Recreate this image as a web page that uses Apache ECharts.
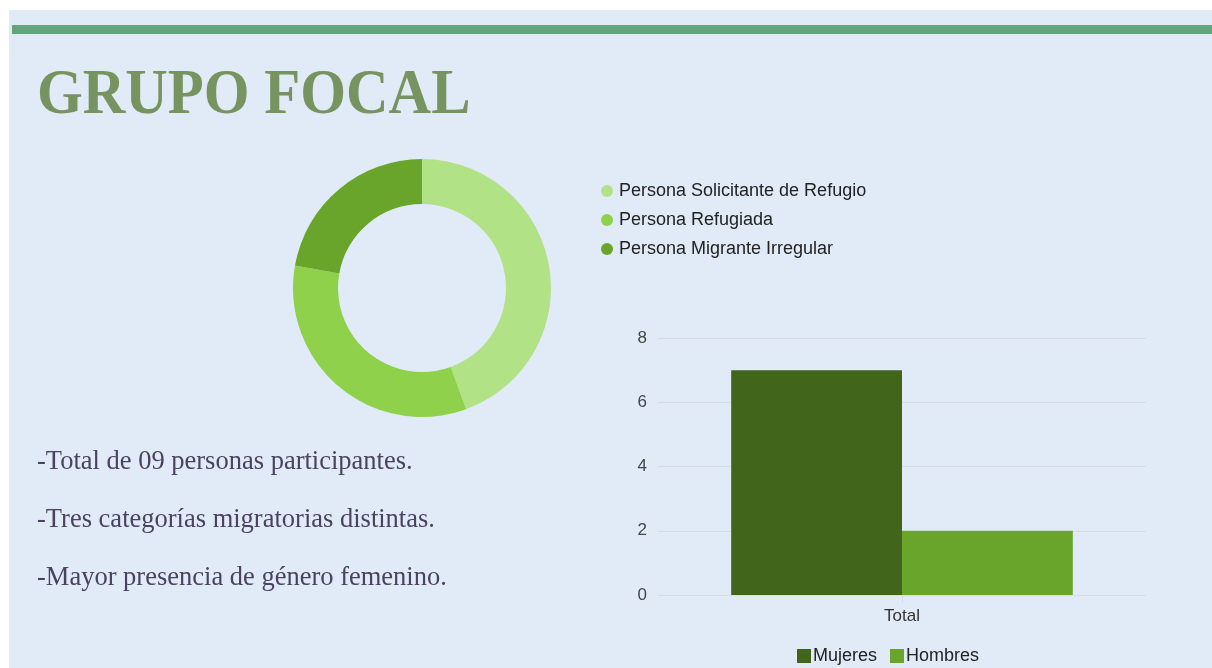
<!DOCTYPE html>
<html>
<head>
<meta charset="utf-8">
<script src="https://cdn.jsdelivr.net/npm/echarts@6/dist/echarts.min.js"></script>
<style>
  html, body { margin: 0; padding: 0; background: #ffffff; }
  #main { width: 1212px; height: 668px; }
</style>
</head>
<body>
<div id="main"></div>
<script>
// donut: migratory categories
var pieNames = ['Persona Solicitante de Refugio', 'Persona Refugiada', 'Persona Migrante Irregular'];
var pieValues = [4, 3, 2];
var pieColors = ['#b2e286', '#8fd14b', '#68a52a'];

// bars: gender
var barCategories = ['Total'];
var barSeriesNames = ['Mujeres', 'Hombres'];
var mujeres = [7];
var hombres = [2];
var barColors = ['#40651b', '#68a52a'];

var bullets = [
  '-Total de 09 personas participantes.',
  '-Tres categorías migratorias distintas.',
  '-Mayor presencia de género femenino.'
];

var sans = 'Arial, "Liberation Sans", sans-serif';

var myChart = echarts.init(document.getElementById('main'));

var textGraphics = bullets.map(function (t, i) {
  return {
    type: 'text',
    x: 37,
    y: 462 + i * 58,
    style: {
      text: t,
      font: '26.5px "Liberation Serif", serif',
      fill: '#4a4260',
      verticalAlign: 'middle'
    }
  };
});

var option = {
  backgroundColor: '#ffffff',
  animation: false,
  graphic: [
    { type: 'rect', shape: { x: 9, y: 10, width: 1203, height: 658 }, style: { fill: '#e1ebf7' }, z: -10 },
    { type: 'rect', shape: { x: 12, y: 25, width: 1200, height: 9 }, style: { fill: '#63a47c' } },
    {
      type: 'text',
      x: 37,
      y: 96,
      scaleX: 0.92,
      style: {
        text: 'GRUPO FOCAL',
        font: 'bold 64px "Liberation Serif", serif',
        fill: '#77935f',
        verticalAlign: 'middle'
      }
    }
  ].concat(textGraphics),
  legend: [{
    orient: 'vertical',
    left: 601,
    top: 182,
    padding: 0,
    icon: 'circle',
    itemWidth: 12,
    itemHeight: 12,
    itemGap: 11,
    data: pieNames,
    textStyle: { fontSize: 18, lineHeight: 18, color: '#222', fontFamily: sans, padding: [0, 0, 0, 1] }
  }, {
    left: 797,
    top: 647,
    padding: 0,
    icon: 'rect',
    itemWidth: 14,
    itemHeight: 14,
    itemGap: 13,
    data: barSeriesNames,
    textStyle: { fontSize: 18, lineHeight: 18, color: '#222', fontFamily: sans, padding: [0, 0, 0, -3] }
  }],
  grid: { left: 658, top: 338, width: 488, height: 257 },
  xAxis: {
    type: 'category',
    data: barCategories,
    axisLine: { show: false },
    axisTick: { show: true, alignWithLabel: true, length: 8, lineStyle: { color: '#d9dde2' } },
    axisLabel: { color: '#333', fontSize: 17, margin: 13, fontFamily: sans }
  },
  yAxis: {
    type: 'value',
    min: 0,
    max: 8,
    interval: 2,
    axisLine: { show: false },
    axisTick: { show: false },
    axisLabel: { color: '#444', fontSize: 17, margin: 11, padding: [0, 0, 10, 0], fontFamily: sans },
    splitLine: { lineStyle: { color: '#d9dde2' } }
  },
  series: [{
    type: 'pie',
    center: [422, 288],
    radius: [84, 129],
    startAngle: 90,
    clockwise: true,
    label: { show: false },
    labelLine: { show: false },
    data: pieNames.map(function (n, i) {
      return { name: n, value: pieValues[i], itemStyle: { color: pieColors[i] } };
    })
  }, {
    name: barSeriesNames[0],
    type: 'bar',
    data: mujeres,
    barGap: 0,
    barCategoryGap: '30%',
    itemStyle: { color: barColors[0] }
  }, {
    name: barSeriesNames[1],
    type: 'bar',
    data: hombres,
    barGap: 0,
    barCategoryGap: '30%',
    itemStyle: { color: barColors[1] }
  }]
};

myChart.setOption(option);
</script>
</body>
</html>
